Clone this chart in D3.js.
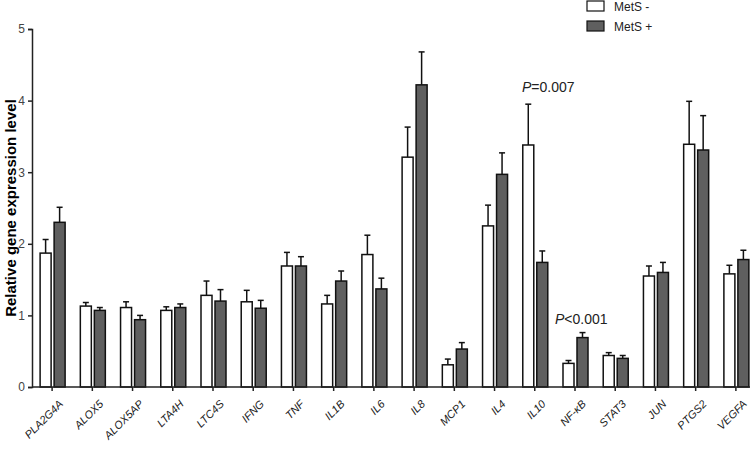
<!DOCTYPE html>
<html><head><meta charset="utf-8">
<script src="https://cdn.jsdelivr.net/npm/d3@7"></script>
<style>body{margin:0;background:#fff}svg{font-family:Arial,"Liberation Sans",sans-serif}</style>
</head><body><svg id="c" width="754" height="449"></svg>
<script>
const genes = ["PLA2G4A","ALOX5","ALOX5AP","LTA4H","LTC4S","IFNG","TNF","IL1B","IL6","IL8","MCP1","IL4","IL10","NF-κB","STAT3","JUN","PTGS2","VEGFA"];
const metsNeg = [1.87,1.13,1.11,1.07,1.28,1.19,1.69,1.16,1.85,3.21,0.31,2.25,3.38,0.33,0.44,1.55,3.39,1.58];
const metsNegErr = [0.19,0.05,0.08,0.05,0.20,0.16,0.19,0.12,0.27,0.42,0.08,0.29,0.57,0.04,0.04,0.14,0.60,0.12];
const metsPos = [2.30,1.07,0.94,1.11,1.20,1.10,1.69,1.48,1.37,4.22,0.53,2.97,1.74,0.69,0.40,1.60,3.31,1.78];
const metsPosErr = [0.21,0.04,0.06,0.05,0.16,0.11,0.13,0.14,0.15,0.46,0.09,0.30,0.16,0.07,0.04,0.14,0.48,0.13];
const yTicks = [0,1,2,3,4,5];

const svg = d3.select("#c");
const x = d3.scaleBand().domain(genes).range([32, 756]);
const y = d3.scaleLinear().domain([0, 5]).range([387, 29]);

// bars
const groups = [
  {vals: metsNeg, err: metsNegErr, fill: "#fff", dx: -12},
  {vals: metsPos, err: metsPosErr, fill: "#5f5f5f", dx: 2}
];
groups.forEach(g => {
  const c = d => x(d) + x.bandwidth() / 2 + g.dx;
  svg.append("g").selectAll("line").data(genes).enter().append("line")
    .attr("x1", (d,i) => c(d) + 5.5).attr("x2", (d,i) => c(d) + 5.5)
    .attr("y1", (d,i) => y(g.vals[i])).attr("y2", (d,i) => y(g.vals[i] + g.err[i]))
    .attr("stroke", "#111").attr("stroke-width", 1.5);
  svg.append("g").selectAll("line").data(genes).enter().append("line")
    .attr("x1", (d,i) => c(d) + 2.5).attr("x2", (d,i) => c(d) + 8.5)
    .attr("y1", (d,i) => y(g.vals[i] + g.err[i])).attr("y2", (d,i) => y(g.vals[i] + g.err[i]))
    .attr("stroke", "#111").attr("stroke-width", 1.5);
  svg.append("g").selectAll("rect").data(genes).enter().append("rect")
    .attr("x", d => c(d)).attr("width", 11)
    .attr("y", (d,i) => y(g.vals[i])).attr("height", (d,i) => y(0) - y(g.vals[i]))
    .attr("fill", g.fill).attr("stroke", "#111").attr("stroke-width", 1.5);
});

// axes
const ya = svg.append("g").attr("transform", "translate(32,0)")
  .call(d3.axisLeft(y).tickValues(yTicks).tickSize(4).tickFormat(d3.format("d")));
ya.selectAll("text").attr("font-size", 12).attr("fill", "#444");
ya.selectAll("line,path").attr("stroke", "#222").attr("stroke-width", 1.5);

const xa = svg.append("g").attr("transform", "translate(0,387)")
  .call(d3.axisBottom(x).tickSize(4).tickSizeOuter(0));
xa.select("path").attr("d", "M32,0H750");
xa.selectAll("line,path").attr("stroke", "#222").attr("stroke-width", 1.5);
xa.selectAll("text").attr("font-size", 11).attr("font-style", "italic").attr("fill", "#222")
  .attr("text-anchor", "end").attr("dy", "0.35em")
  .attr("transform", "translate(4,10) rotate(-45)");

svg.append("text").attr("transform", "translate(16,208) rotate(-90)")
  .attr("text-anchor", "middle").attr("font-size", 15).attr("font-weight", "bold")
  .text("Relative gene expression level");

// legend
const legend = [["MetS -", "#fff"], ["MetS +", "#5f5f5f"]];
legend.forEach((l, i) => {
  svg.append("rect").attr("x", 587).attr("y", 1 + i * 20).attr("width", 17).attr("height", 10)
    .attr("fill", l[1]).attr("stroke", "#111").attr("stroke-width", 1.2);
  svg.append("text").attr("x", 614).attr("y", 11 + i * 20).attr("font-size", 12).attr("fill", "#222").text(l[0]);
});

// annotations
const ann = [["0.007", "=", "IL10", 3.95 + 0.2], ["0.001", "<", "NF-κB", 0.69 + 0.07 + 0.3]];
svg.append("text").attr("x", 522).attr("y", 92).attr("font-size", 14).attr("fill", "#222")
  .html('<tspan font-style="italic">P</tspan>=0.007');
svg.append("text").attr("x", 555).attr("y", 324).attr("font-size", 14).attr("fill", "#222")
  .html('<tspan font-style="italic">P</tspan>&lt;0.001');
</script></body></html>
